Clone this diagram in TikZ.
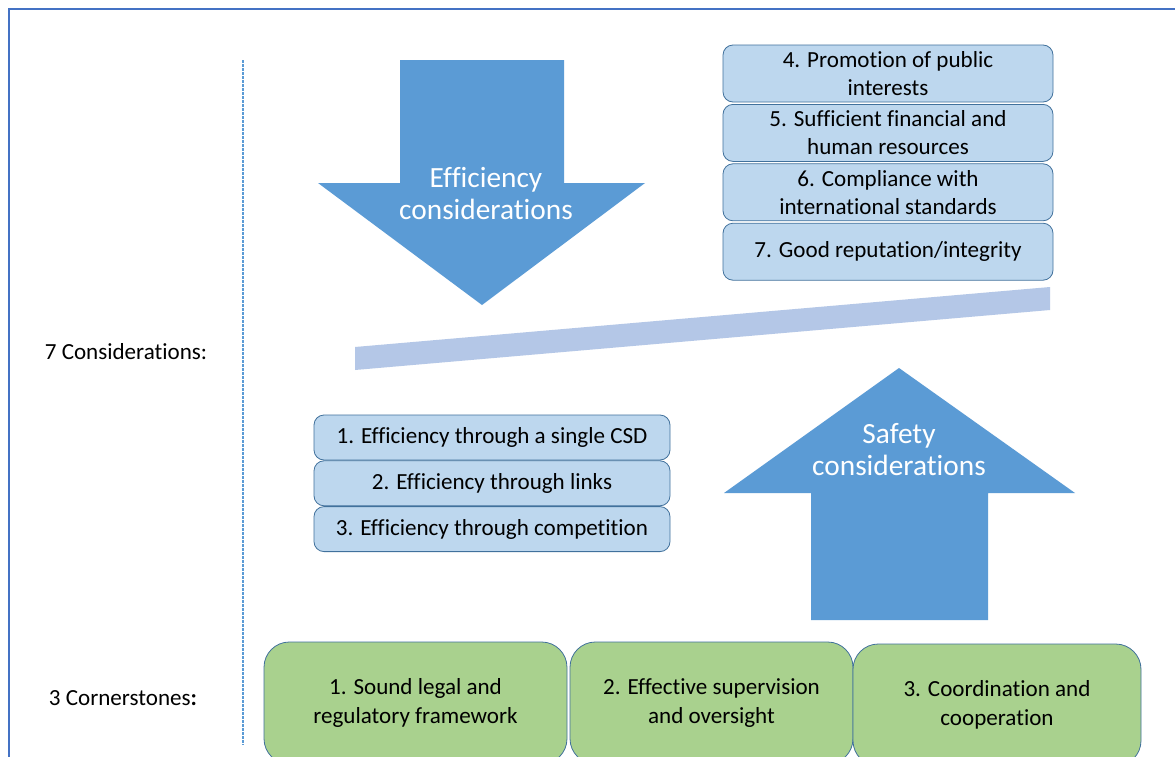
\documentclass[tikz,border=0pt]{standalone}
\usepackage{fontspec}
\setmainfont{Carlito}[Ligatures=NoCommon]
\usepackage{xcolor}
\definecolor{frameblue}{RGB}{68,114,196}
\definecolor{arrowblue}{RGB}{91,155,213}
\definecolor{paleblue}{RGB}{189,215,238}
\definecolor{edgeblue}{RGB}{65,113,156}
\definecolor{barblue}{RGB}{180,199,231}
\definecolor{leafgreen}{RGB}{169,209,142}
\definecolor{ink}{RGB}{0,0,0}
\usetikzlibrary{positioning}
\tikzset{
  crit/.style={draw=edgeblue, fill=paleblue, line width=0.6pt,
               rounded corners=7.5pt, align=center, inner sep=0pt,
               text=ink, font=\fontsize{17.3}{21}\selectfont},
  cornerstone/.style={draw=edgeblue, fill=leafgreen, line width=0.6pt,
               rounded corners=19pt, align=center, inner sep=0pt,
               text=ink, font=\fontsize{17.3}{22}\selectfont},
  bigarrow/.style={fill=arrowblue},
  arrowtext/.style={text=white, align=center,
               font=\fontsize{22}{24}\selectfont},
  sidelabel/.style={text=ink, font=\fontsize{17.3}{21}\selectfont},
}
\begin{document}
\begin{tikzpicture}[x=0.75pt, y=-0.75pt]
\useasboundingbox (0,0) rectangle (1175,757);
\clip (0,0) rectangle (1175,757);
\fill[white] (0,0) rectangle (1175,757);

% frame and divider
\draw[frameblue, line width=1.5pt] (9,757) |- (1175,9);
\draw[arrowblue, line width=0.8pt, dash pattern=on 2pt off 1pt] (243,60) -- (243,745);

% side labels
\node[sidelabel] (lblcons) at (126,352) {7 Considerations:};
\node[sidelabel] (lblcorner) at (123,698) {3 Cornerstones{\bfseries :}};

% efficiency arrow (down)
\fill[bigarrow] (400,60) -- (564,60) -- (564,183) -- (645,183) -- (482,305)
  -- (318,183) -- (400,183) -- cycle;
\node[arrowtext] (effarrow) at (486,194) {Efficiency\\considerations};

% safety arrow (up)
\fill[bigarrow] (899,368) -- (1075,493) -- (988,493) -- (988,620)
  -- (811,620) -- (811,493) -- (724,493) -- cycle;
\node[arrowtext] (safearrow) at (899,450) {Safety\\considerations};

% balance beam
\fill[barblue] (355,347) -- (1050,287) -- (1050,310) -- (355,370) -- cycle;

% safety considerations
\node[crit, minimum width=330*0.75pt, minimum height=57*0.75pt] (c4) at (888,73.5)
  {4. Promotion of public\\interests};
\node[crit, minimum width=330*0.75pt, minimum height=57*0.75pt, below=1.2pt of c4] (c5)
  {5. Sufficient financial and\\human resources};
\node[crit, minimum width=330*0.75pt, minimum height=57*0.75pt, below=1.2pt of c5] (c6)
  {6. Compliance with\\international standards};
\node[crit, minimum width=330*0.75pt, minimum height=57*0.75pt, below=1.2pt of c6] (c7)
  {7. Good reputation/integrity};

% efficiency considerations
\node[crit, minimum width=356*0.75pt, minimum height=45*0.75pt] (c1) at (492,437.5)
  {1. Efficiency through a single CSD};
\node[crit, minimum width=356*0.75pt, minimum height=45*0.75pt, below=0pt of c1] (c2)
  {2. Efficiency through links};
\node[crit, minimum width=356*0.75pt, minimum height=45*0.75pt, below=0pt of c2] (c3)
  {3. Efficiency through competition};

% cornerstones
\node[cornerstone, minimum width=303*0.75pt, minimum height=122*0.75pt] (k1) at (415.5,703)
  {1. Sound legal and\\regulatory framework};
\node[cornerstone, minimum width=283*0.75pt, minimum height=122*0.75pt] (k2) at (711.5,703)
  {2. Effective  supervision\\and oversight};
\node[cornerstone, minimum width=288*0.75pt, minimum height=122*0.75pt] (k3) at (997,705)
  {3. Coordination and\\cooperation};
\end{tikzpicture}
\end{document}
